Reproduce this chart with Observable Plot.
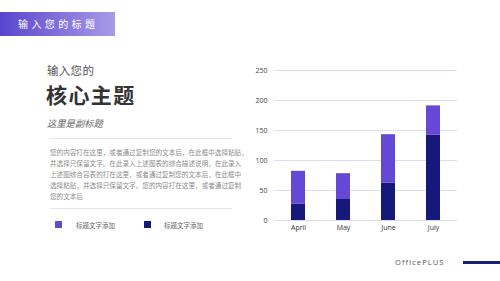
<!DOCTYPE html>
<html>
<head>
<meta charset="utf-8">
<script src="https://cdn.jsdelivr.net/npm/d3@7"></script>
<script src="https://cdn.jsdelivr.net/npm/@observablehq/plot@0.6"></script>
<style>
  html, body { margin:0; padding:0; background:#fff; }
  body { width:500px; height:281px; position:relative; overflow:hidden; font-family:"Noto Sans CJK SC","Noto Sans",sans-serif; }
  .abs { position:absolute; white-space:nowrap; }
  #hdr { left:0; top:12px; width:115px; height:24px; background:linear-gradient(90deg,#5a45cf,#a89be8); }
  #hdrtext { left:18px; top:12px; height:24px; line-height:24px; color:#fff; font-size:10px; letter-spacing:3.4px; }
  #pre { left:47px; top:64px; font-size:11.5px; color:#555; line-height:12px; letter-spacing:0.3px; }
  #main { left:46px; top:83px; font-size:21px; font-weight:bold; color:#333; line-height:22px; letter-spacing:1.4px; }
  #sub { left:47px; top:117px; font-size:9.3px; font-style:italic; color:#666; line-height:13px; }
  .sep { left:50px; width:182px; height:1px; background:#e6e6e6; }
  #para { left:50px; top:147px; font-size:6.6px; color:#8c8c8c; line-height:11.1px; }
  .sw { width:7px; height:7px; top:221px; }
  .lt { top:219px; font-size:6.5px; color:#666; line-height:12px; }
  #brand { left:395px; top:256px; font-size:7.5px; color:#555; letter-spacing:1.1px; line-height:12px; font-family:"Open Sans",sans-serif; }
  #bline { left:463px; top:261px; width:37px; height:3px; background:#1a1f7a; }
  #chart { left:240px; top:55px; }
</style>
</head>
<body>
<div class="abs" id="hdr"></div>
<div class="abs" id="hdrtext">输入您的标题</div>
<div class="abs" id="pre">输入您的</div>
<div class="abs" id="main">核心主题</div>
<div class="abs" id="sub">这里是副标题</div>
<div class="abs sep" style="top:138px"></div>
<div class="abs" id="para"></div>
<div class="abs sep" style="top:208px"></div>
<div class="abs sw" id="sw0" style="left:55px"></div>
<div class="abs lt" id="lt0" style="left:76px"></div>
<div class="abs sw" id="sw1" style="left:144px"></div>
<div class="abs lt" id="lt1" style="left:164px"></div>
<div class="abs" id="brand">OfficePLUS</div>
<div class="abs" id="bline"></div>
<div class="abs" id="chart"></div>
<script>
const months = ["April", "May", "June", "July"];
const seriesNames = ["标题文字添加", "标题文字添加"];
const seriesColors = ["#6549d6", "#16197a"];
// light series (stacked on top) and dark series (bottom)
const lightValues = [55, 43, 81, 49];
const darkValues = [27, 35, 62, 142];
const yTicks = [0, 50, 100, 150, 200, 250];
const paraLines = [
  "您的内容打在这里，或者通过复制您的文本后，在此框中选择粘贴，",
  "并选择只保留文字。在此录入上述图表的综合描述说明，在此录入",
  "上述图综合容表的打在这里，或者通过复制您的文本后，在此框中",
  "选择粘贴，并选择只保留文字。您的内容打在这里，或者通过复制",
  "您的文本后"
];

document.getElementById("para").innerHTML = paraLines.join("<br>");
document.getElementById("sw0").style.background = seriesColors[0];
document.getElementById("sw1").style.background = seriesColors[1];
document.getElementById("lt0").textContent = seriesNames[0];
document.getElementById("lt1").textContent = seriesNames[1];

const data = [];
months.forEach((m, i) => data.push({month: m, series: "dark", value: darkValues[i]}));
months.forEach((m, i) => data.push({month: m, series: "light", value: lightValues[i]}));

const chart = Plot.plot({
  width: 230,
  height: 190,
  marginLeft: 34,
  marginRight: 13,
  marginTop: 15,
  marginBottom: 25,
  style: {fontFamily: "'Open Sans', sans-serif", fontSize: "7px", color: "#444", background: "transparent"},
  x: {domain: months, paddingInner: 0.694, paddingOuter: 0.349, label: null, tickSize: 0, tickPadding: 5},
  y: {domain: [0, 250], ticks: yTicks, label: null, tickSize: 0, tickPadding: 7},
  color: {domain: ["light", "dark"], range: seriesColors},
  marks: [
    Plot.ruleY(yTicks, {stroke: "#dcdcf2", strokeWidth: 1}),
    Plot.barY(data, {x: "month", y: "value", fill: "series", order: null}),
    Plot.axisX({tickSize: 0, tickPadding: 5, fill: "#333"}),
    Plot.axisY({ticks: yTicks, tickSize: 0, tickPadding: 7, fill: "#444"})
  ]
});
document.getElementById("chart").appendChild(chart);
</script>
</body>
</html>
